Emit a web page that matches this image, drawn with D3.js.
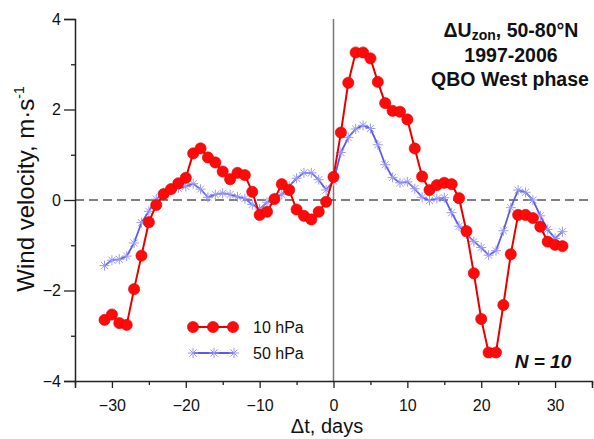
<!DOCTYPE html>
<html>
<head>
<meta charset="utf-8">
<script src="https://cdn.jsdelivr.net/npm/d3@7"></script>
<style>
  body { margin: 0; background: #fff; }
  svg { display: block; }
  text { font-family: "Liberation Sans", Arial, sans-serif; fill: #111; }
</style>
</head>
<body>
<svg id="chart" width="594" height="439"></svg>
<script>
// ---- data ----
const days = d3.range(-31, 32);
const hPa10 = [
  -2.65, -2.53, -2.72, -2.76, -1.97, -1.23, -0.49, -0.11, 0.13, 0.24,
  0.37, 0.49, 1.03, 1.14, 0.94, 0.83, 0.63, 0.46, 0.60, 0.55,
  0.18, -0.33, -0.26, 0.02, 0.35, 0.22, -0.21, -0.35, -0.43, -0.26,
  -0.04,
  0.51,
  1.49, 2.59, 3.26, 3.26, 3.13, 2.61, 2.14, 1.97, 1.95, 1.78,
  1.14, 0.52, 0.22, 0.33, 0.38, 0.35, 0.04, -0.69, -1.62, -2.63,
  -3.37, -3.37, -2.32, -1.20, -0.33, -0.33, -0.40, -0.59, -0.92, -0.99,
  -1.02
];
const hPa50 = [
  -1.45, -1.33, -1.31, -1.24, -0.95, -0.50, -0.25, 0.02, 0.16, 0.25,
  0.26, 0.30, 0.36, 0.24, 0.06, 0.12, 0.15, 0.12, 0.07, 0.03,
  -0.10, -0.20, -0.05, 0.05, 0.12, 0.30, 0.48, 0.60, 0.60, 0.45,
  0.22,
  0.42,
  1.05, 1.38, 1.57, 1.65, 1.58, 1.22, 0.78, 0.50, 0.38, 0.40,
  0.25, 0.06, -0.01, 0.03, 0.05, -0.28, -0.58, -0.75, -0.92, -1.05,
  -1.22, -1.12, -0.68, -0.17, 0.22, 0.17, 0.00, -0.35, -0.65, -0.85,
  -0.70
];
const xMajorTicks = [-30, -20, -10, 0, 10, 20, 30];
const xMinorTicks = [-35, -25, -15, -5, 5, 15, 25, 35];
const yMajorTicks = [-4, -2, 0, 2, 4];
const yMinorTicks = [-3, -1, 1, 3];
const seriesNames = ["10 hPa", "50 hPa"];

// ---- layout ----
const svg = d3.select("#chart");
const x = d3.scaleLinear().domain([-35, 35]).range([75, 592]);
const y = d3.scaleLinear().domain([-4, 4]).range([381, 19]);

const RED = "#ff0a0a", REDLINE = "#e80000";
const BLUE = "#5b5be3", BLUESTAR = "#9a9af7";

// zero reference lines
svg.append("line")
  .attr("x1", x(0)).attr("x2", x(0)).attr("y1", y(4)).attr("y2", y(-4))
  .attr("stroke", "#777").attr("stroke-width", 1.5);
svg.append("line")
  .attr("x1", x(-35)).attr("x2", x(35)).attr("y1", y(0)).attr("y2", y(0))
  .attr("stroke", "#555").attr("stroke-width", 1.5).attr("stroke-dasharray", "9,5");

// axes
const gx = svg.append("g").attr("transform", `translate(0,${y(-4)})`);
gx.call(d3.axisBottom(x).tickValues(xMajorTicks).tickSize(7).tickPadding(12).tickFormat(d3.format("d")));
const gxm = svg.append("g").attr("transform", `translate(0,${y(-4)})`);
gxm.call(d3.axisBottom(x).tickValues(xMinorTicks).tickSize(4).tickFormat(""));
const gy = svg.append("g").attr("transform", `translate(${x(-35)},0)`);
gy.call(d3.axisLeft(y).tickValues(yMajorTicks).tickSize(11).tickPadding(3).tickFormat(d3.format("d")));
const gym = svg.append("g").attr("transform", `translate(${x(-35)},0)`);
gym.call(d3.axisLeft(y).tickValues(yMinorTicks).tickSize(4).tickFormat(""));
[gx, gxm, gy, gym].forEach(g => {
  g.selectAll("path.domain").attr("stroke", "#222").attr("stroke-width", 1.5);
  g.selectAll(".tick line").attr("stroke", "#222").attr("stroke-width", 1.3);
  g.selectAll(".tick text").attr("font-size", 16).attr("font-family", "Liberation Sans, Arial, sans-serif").attr("fill", "#111");
});
gxm.select("path.domain").remove();
gym.select("path.domain").remove();

// axis titles
svg.append("text").attr("x", 327).attr("y", 433).attr("text-anchor", "middle")
  .attr("font-size", 20).text("Δt, days");

const yt = svg.append("text").attr("transform", "translate(34,189) rotate(-90)")
  .attr("text-anchor", "middle").attr("font-size", 24);
yt.append("tspan").text("Wind velocity, m·s");
yt.append("tspan").attr("font-size", 14).attr("dy", -10).text("-1");

// series
const pts50 = days.map((d, i) => [d, hPa50[i]]);
const pts10 = days.map((d, i) => [d, hPa10[i]]);
const line = d3.line().x(d => x(d[0])).y(d => y(d[1]));

function star(g, cx, cy, r) {
  for (let k = 0; k < 4; k++) {
    const a = k * Math.PI / 4;
    g.append("line")
      .attr("x1", cx - r * Math.cos(a)).attr("y1", cy - r * Math.sin(a))
      .attr("x2", cx + r * Math.cos(a)).attr("y2", cy + r * Math.sin(a))
      .attr("stroke", BLUESTAR).attr("stroke-width", 1);
  }
}

const g50 = svg.append("g");
g50.append("path").datum(pts50).attr("d", line).attr("fill", "none")
  .attr("stroke", BLUE).attr("stroke-width", 1.8);
pts50.forEach(p => star(g50, x(p[0]), y(p[1]), 5));

const g10 = svg.append("g");
g10.append("path").datum(pts10).attr("d", line).attr("fill", "none")
  .attr("stroke", REDLINE).attr("stroke-width", 2);
g10.selectAll("circle").data(pts10).join("circle")
  .attr("cx", d => x(d[0])).attr("cy", d => y(d[1])).attr("r", 5.6)
  .attr("fill", RED).attr("stroke", "#e00000").attr("stroke-width", 0.6);

// legend
const lg = svg.append("g");
lg.append("line").attr("x1", 193).attr("x2", 233).attr("y1", 327).attr("y2", 327)
  .attr("stroke", REDLINE).attr("stroke-width", 2);
[193, 213, 233].forEach(cx => lg.append("circle").attr("cx", cx).attr("cy", 327).attr("r", 5.6)
  .attr("fill", RED).attr("stroke", "#e00000").attr("stroke-width", 0.6));
lg.append("line").attr("x1", 192).attr("x2", 235).attr("y1", 353).attr("y2", 353)
  .attr("stroke", BLUE).attr("stroke-width", 1.8);
[193, 214, 234].forEach(cx => star(lg, cx, 353, 5));
lg.append("text").attr("x", 253).attr("y", 333).attr("font-size", 16).text(seriesNames[0]);
lg.append("text").attr("x", 253).attr("y", 359).attr("font-size", 16).text(seriesNames[1]);

// annotation block
const ann = svg.append("g").attr("font-weight", "bold").attr("text-anchor", "middle");
const t1 = ann.append("text").attr("x", 511).attr("y", 37).attr("font-size", 19.5);
t1.append("tspan").text("ΔU");
t1.append("tspan").attr("font-size", 14).attr("dy", 3).text("zon");
t1.append("tspan").attr("dy", -3).text(", 50-80°N");
ann.append("text").attr("x", 511).attr("y", 62).attr("font-size", 19.5).text("1997-2006");
ann.append("text").attr("x", 510).attr("y", 86).attr("font-size", 19.5).text("QBO West phase");

svg.append("text").attr("x", 543).attr("y", 368).attr("text-anchor", "middle")
  .attr("font-size", 19).attr("font-weight", "bold").attr("font-style", "italic").text("N = 10");
</script>
</body>
</html>
